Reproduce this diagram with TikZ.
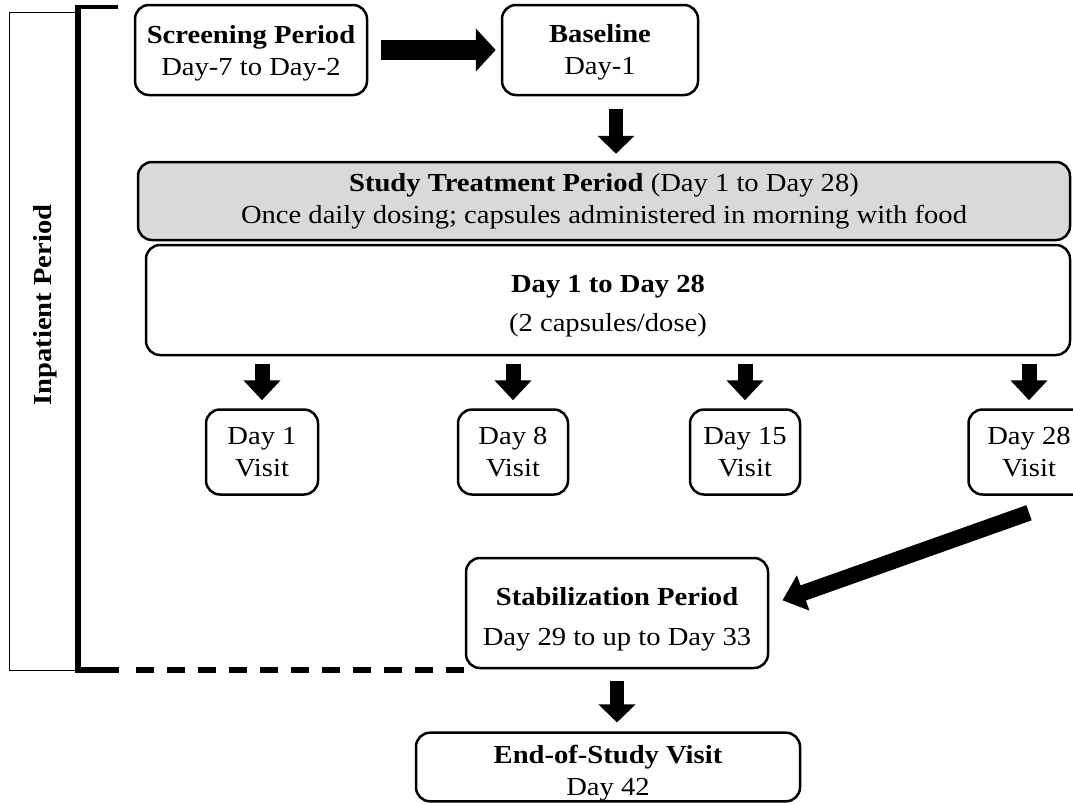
\documentclass[tikz,border=0pt]{standalone}
\usepackage{fontspec}
\setmainfont{Liberation Serif}[FakeStretch=1.1]
\usetikzlibrary{arrows.meta,calc}
\definecolor{boxgray}{HTML}{D9D9D9}
\begin{document}
\begin{tikzpicture}[x=1pt,y=-1pt,
  box/.style={draw=black, line width=2.5pt, rounded corners=14pt, align=center, inner sep=0pt,
    font=\fontsize{26}{32}\selectfont},
  bigarrow/.style={line width=14pt, -{Triangle[length=18pt,width=36pt]}},
  bracketline/.style={line width=6pt}
]
\useasboundingbox (0,0) rectangle (1073,803);
\clip (0,0) rectangle (1073,803);

% inpatient period frame
\draw[line width=1pt] (9,12) rectangle (78,670);
\node[rotate=90, font=\fontsize{26}{32}\selectfont\bfseries] (inpat) at (45,305) {Inpatient Period};

% nodes
\node[box, minimum width=232pt, minimum height=90pt] (screen) at (251,50)
  {\rule{0pt}{25pt}\textbf{Screening Period}\\Day-7 to Day-2};
\node[box, minimum width=196pt, minimum height=90pt] (base) at (600,50)
  {\rule{0pt}{23pt}\textbf{Baseline}\\Day-1};
\node[box, fill=boxgray, minimum width=932pt, minimum height=78pt] (treat) at (604,201)
  {\textbf{Study Treatment Period} (Day 1 to Day 28)\\Once daily dosing; capsules administered in morning with food};
\node[box, minimum width=924pt, minimum height=110pt] (days) at (608,300)
  {\rule{0pt}{29pt}\textbf{Day 1 to Day 28}\\[7pt](2 capsules/dose)};
\node[box, minimum width=112pt, minimum height=85pt] (v1) at (262,452) {Day 1\\Visit};
\node[box, minimum width=110pt, minimum height=85pt] (v8) at (513,452) {Day 8\\Visit};
\node[box, minimum width=110pt, minimum height=85pt] (v15) at (745,452) {Day 15\\Visit};
\node[box, minimum width=121pt, minimum height=85pt] (v28) at (1029,452) {Day 28\\Visit};
\node[box, minimum width=302pt, minimum height=110pt] (stab) at (617,613)
  {\rule{0pt}{31pt}\textbf{Stabilization Period}\\[8pt]Day 29 to up to Day 33};
\node[box, minimum width=384pt, minimum height=66pt] (end) at (608,767)
  {\rule{0pt}{31pt}\textbf{End-of-Study Visit}\\Day 42};

% arrows
\draw[line width=20pt, -{Triangle[length=20pt,width=42pt]}, shorten <=13pt, shorten >=5pt]
  (screen.east) -- (base.west);
\draw[bigarrow, shorten <=13pt, shorten >=7pt] ([xshift=16pt]base.south) -- ([xshift=16pt]base.south |- treat.north);
\foreach \v in {v1,v8,v15,v28}{
  \draw[line width=15pt, -{Triangle[length=20pt,width=36pt]}, shorten <=8pt, shorten >=8pt]
    (\v.north |- days.south) -- (\v.north);
}
\draw[line width=16pt, -{Triangle[length=22pt,width=36pt]}, shorten >=14pt]
  ([yshift=-17pt]v28.south) -- ([yshift=8pt]stab.east);
\draw[bigarrow, shorten <=12pt, shorten >=9pt] (stab.south) -- (stab.south |- end.north);

% bracket
\coordinate (btop) at (118,7);
\coordinate (bcorner) at (78,670);
\coordinate (bend) at (119,670);
\draw[line width=4pt] (btop) -- (78,7);
\draw[bracketline] (78,5) -- (bcorner) -- (bend);
\draw[bracketline, dash pattern=on 18pt off 13pt] ([xshift=17pt]bend) -- (bend -| stab.south west);
\end{tikzpicture}
\end{document}
